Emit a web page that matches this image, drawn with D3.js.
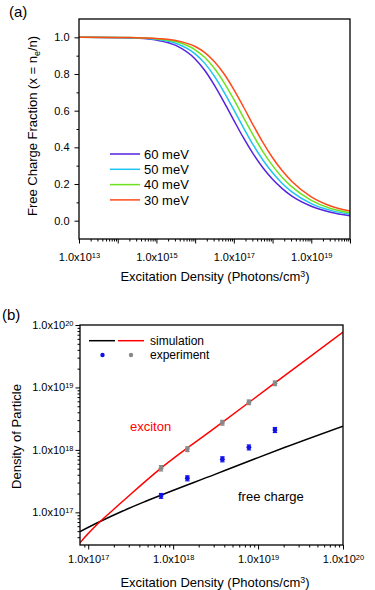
<!DOCTYPE html>
<html>
<head>
<meta charset="utf-8">
<script src="https://cdn.jsdelivr.net/npm/d3@7"></script>
<style>
body { margin: 0; background: #fff; }
svg { display: block; font-family: "Liberation Sans", Arial, sans-serif; }
</style>
</head>
<body>
<svg id="chart" width="375" height="590"></svg>
<script>
// ---- panel (a): free charge fraction vs excitation density ----
var densityA = [1e13, 1e14, 3.16e14, 1e15, 3.16e15, 1e16, 1.78e16, 3.16e16, 5.62e16, 1e17,
	1.78e17, 3.16e17, 5.62e17, 1e18, 1.78e18, 3.16e18, 1e19, 3.16e19, 1e20];
var frac60 = [1.000, 0.998, 0.995, 0.985, 0.956, 0.882, 0.819, 0.738, 0.645, 0.547,
	0.451, 0.364, 0.289, 0.226, 0.175, 0.134, 0.079, 0.046, 0.027];
var frac50 = [1.000, 0.999, 0.997, 0.989, 0.968, 0.910, 0.858, 0.787, 0.700, 0.604,
	0.506, 0.413, 0.331, 0.261, 0.203, 0.157, 0.093, 0.056, 0.035];
var frac40 = [1.000, 0.999, 0.998, 0.992, 0.977, 0.932, 0.890, 0.830, 0.752, 0.661,
	0.562, 0.466, 0.377, 0.300, 0.235, 0.184, 0.111, 0.066, 0.043];
var frac30 = [1.000, 0.999, 0.998, 0.994, 0.983, 0.950, 0.917, 0.867, 0.800, 0.715,
	0.620, 0.521, 0.427, 0.343, 0.272, 0.214, 0.130, 0.080, 0.052];
var bindingLabels = ["60 meV", "50 meV", "40 meV", "30 meV"];
var fracTicks = [0, 0.2, 0.4, 0.6, 0.8, 1.0];

// ---- panel (b): density of particle ----
var simDensityFree = [8e16, 1.38e17, 2.51e17, 4.68e17, 3.16e18, 1e19, 2.08e19, 1e20];
var simFree = [4.93e16, 7.13e16, 1.04e17, 1.49e17, 4.1e17, 7.53e17, 1.1e18, 2.4e18];
var simDensityExc = [8e16, 1e17, 1.38e17, 2e17, 3.16e17, 7.2e17, 3.16e18, 1.58e19, 1e20];
var simExciton = [3.25e16, 4.57e16, 7.13e16, 1.12e17, 1.95e17, 5.1e17, 2.29e18, 1.18e19, 7.7e19];
var expDensity = [7.2e17, 1.47e18, 3.8e18, 7.8e18, 1.58e19];
var expExciton = [5.1e17, 1.03e18, 2.73e18, 5.8e18, 1.17e19];
var expExcitonErr = [0.5e17, 0.9e17, 2.4e17, 5e17, 1.0e18];
var expFree = [1.84e17, 3.52e17, 7.1e17, 1.1e18, 2.09e18];
var expFreeErr = [0.16e17, 0.32e17, 0.65e17, 1.0e17, 1.9e17];

var colorsA = ["#5522dd", "#1ec4f2", "#6ee21e", "#ff4a1a"];
var svg = d3.select("#chart");
svg.append("rect").attr("width", 375).attr("height", 590).attr("fill", "#fff");

// minor ticks of a log axis: 2..9 x 10^k inside the domain
function logMinor(domain) {
	var out = [];
	for (var k = Math.floor(Math.log10(domain[0])); k <= Math.ceil(Math.log10(domain[1])); k++) {
		for (var m = 2; m <= 9; m++) {
			var v = m * Math.pow(10, k);
			if (v > domain[0] * 1.0001 && v < domain[1] * 0.9999) out.push(v);
		}
	}
	return out;
}

function powerLabel(t, d) {
	var e = Math.round(Math.log10(d));
	t.text("1.0x10");
	t.append("tspan").attr("dy", "-0.45em").attr("font-size", "0.68em").text(e);
}

function styleAxis(g) {
	g.select(".domain").remove();
	g.attr("font-family", null).attr("font-size", 11);
	g.selectAll(".tick line").attr("stroke", "#000").attr("stroke-width", 1);
	g.selectAll(".tick text").attr("fill", "#000");
}

// ================= panel (a) =================
var pa = {left: 79, right: 350, top: 19, bottom: 239};
var xA = d3.scaleLog().domain([1e13, 1e20]).range([pa.left, pa.right]);
var yA = d3.scaleLinear().domain([-0.1, 1.1]).range([pa.bottom, pa.top]);

svg.append("clipPath").attr("id", "clipA").append("rect")
	.attr("x", pa.left).attr("y", pa.top).attr("width", pa.right - pa.left).attr("height", pa.bottom - pa.top);

var lineA = d3.line().x(function(d) { return xA(d[0]); }).y(function(d) { return yA(d[1]); })
	.curve(d3.curveMonotoneX);
var seriesA = [frac60, frac50, frac40, frac30];
svg.append("g").attr("clip-path", "url(#clipA)").selectAll("path")
	.data(seriesA).enter().append("path")
	.attr("d", function(s) { return lineA(densityA.map(function(x, i) { return [x, s[i]]; })); })
	.attr("fill", "none")
	.attr("stroke", function(s, i) { return colorsA[i]; })
	.attr("stroke-width", 1.5);

// x axis (a)
var decA = [1e13, 1e14, 1e15, 1e16, 1e17, 1e18, 1e19, 1e20];
var gxA = svg.append("g").attr("transform", "translate(0," + pa.bottom + ")")
	.call(d3.axisBottom(xA).tickValues(decA).tickSize(4.5).tickSizeOuter(0).tickFormat(""));
styleAxis(gxA);
gxA.selectAll(".tick text").each(function(d) {
	var e = Math.round(Math.log10(d));
	if (e % 2 == 1) {
		var t = d3.select(this).attr("y", 22).attr("dy", null);
		powerLabel(t, d);
	}
});
var gxAm = svg.append("g").attr("transform", "translate(0," + pa.bottom + ")")
	.call(d3.axisBottom(xA).tickValues(logMinor(xA.domain())).tickSize(2.5).tickSizeOuter(0).tickFormat(""));
styleAxis(gxAm);

// y axis (a)
var gyA = svg.append("g").attr("transform", "translate(" + pa.left + ",0)")
	.call(d3.axisLeft(yA).tickValues(fracTicks).tickSize(4.5).tickPadding(5).tickSizeOuter(0)
		.tickFormat(d3.format(".1f")));
styleAxis(gyA);
var gyAm = svg.append("g").attr("transform", "translate(" + pa.left + ",0)")
	.call(d3.axisLeft(yA).tickValues([0.1, 0.3, 0.5, 0.7, 0.9]).tickSize(2.5).tickSizeOuter(0).tickFormat(""));
styleAxis(gyAm);

svg.append("rect").attr("x", pa.left).attr("y", pa.top)
	.attr("width", pa.right - pa.left).attr("height", pa.bottom - pa.top)
	.attr("fill", "none").attr("stroke", "#000").attr("stroke-width", 1.3);

// legend (a)
var legA = svg.append("g").selectAll("g").data(bindingLabels).enter().append("g")
	.attr("transform", function(d, i) { return "translate(110," + (154 + i * 15.3) + ")"; });
legA.append("line").attr("x1", 0).attr("x2", 30).attr("y1", 0).attr("y2", 0)
	.attr("stroke", function(d, i) { return colorsA[i]; }).attr("stroke-width", 1.5);
legA.append("text").attr("x", 34).attr("dy", "0.36em").attr("font-size", 13).text(function(d) { return d; });

// titles (a)
var txA = svg.append("text").attr("x", 215).attr("y", 281).attr("text-anchor", "middle").attr("font-size", 13)
	.text("Excitation Density (Photons/cm");
txA.append("tspan").attr("dy", "-0.45em").attr("font-size", "0.68em").text("3");
txA.append("tspan").attr("dy", "0.306em").text(")");

var tyA = svg.append("text").attr("transform", "translate(37,126) rotate(-90)")
	.attr("text-anchor", "middle").attr("font-size", 13).text("Free Charge Fraction (x = n");
tyA.append("tspan").attr("dy", "0.3em").attr("font-size", "0.68em").text("e");
tyA.append("tspan").attr("dy", "-0.204em").text("/n)");

svg.append("text").attr("x", 9).attr("y", 17).attr("font-size", 15).text("(a)");

// ================= panel (b) =================
var pb = {left: 80, right: 343, top: 325, bottom: 545};
var xB = d3.scaleLog().domain([8e16, 1e20]).range([pb.left, pb.right]);
var yB = d3.scaleLog().domain([3e16, 1e20]).range([pb.bottom, pb.top]);

svg.append("clipPath").attr("id", "clipB").append("rect")
	.attr("x", pb.left).attr("y", pb.top).attr("width", pb.right - pb.left).attr("height", pb.bottom - pb.top);

var lineB = d3.line().x(function(d) { return xB(d[0]); }).y(function(d) { return yB(d[1]); })
	.curve(d3.curveMonotoneX);
var gLinesB = svg.append("g").attr("clip-path", "url(#clipB)");
gLinesB.append("path")
	.attr("d", lineB(simDensityFree.map(function(x, i) { return [x, simFree[i]]; })))
	.attr("fill", "none").attr("stroke", "#000").attr("stroke-width", 1.5);
gLinesB.append("path")
	.attr("d", lineB(simDensityExc.map(function(x, i) { return [x, simExciton[i]]; })))
	.attr("fill", "none").attr("stroke", "#ff0000").attr("stroke-width", 1.5);

function drawPoints(vals, errs, color) {
	var g = svg.append("g");
	var pts = expDensity.map(function(x, i) { return {x: x, y: vals[i], e: errs[i]}; });
	g.selectAll("line.err").data(pts).enter().append("line").attr("class", "err")
		.attr("x1", function(d) { return xB(d.x); }).attr("x2", function(d) { return xB(d.x); })
		.attr("y1", function(d) { return yB(d.y - d.e); }).attr("y2", function(d) { return yB(d.y + d.e); })
		.attr("stroke", color).attr("stroke-width", 1.2);
	[-1, 1].forEach(function(s) {
		g.selectAll("line.cap" + s).data(pts).enter().append("line")
			.attr("x1", function(d) { return xB(d.x) - 2.2; }).attr("x2", function(d) { return xB(d.x) + 2.2; })
			.attr("y1", function(d) { return yB(d.y + s * d.e); }).attr("y2", function(d) { return yB(d.y + s * d.e); })
			.attr("stroke", color).attr("stroke-width", 1.2);
	});
	g.selectAll("circle").data(pts).enter().append("circle")
		.attr("cx", function(d) { return xB(d.x); }).attr("cy", function(d) { return yB(d.y); })
		.attr("r", 2.4).attr("fill", color);
}
drawPoints(expExciton, expExcitonErr, "#888888");
drawPoints(expFree, expFreeErr, "#1010e8");

// axes (b)
var decB = [1e17, 1e18, 1e19, 1e20];
var gxB = svg.append("g").attr("transform", "translate(0," + pb.bottom + ")")
	.call(d3.axisBottom(xB).tickValues(decB).tickSize(4.5).tickSizeOuter(0).tickFormat(""));
styleAxis(gxB);
gxB.selectAll(".tick text").each(function(d) {
	powerLabel(d3.select(this).attr("y", 18).attr("dy", null), d);
});
var gxBm = svg.append("g").attr("transform", "translate(0," + pb.bottom + ")")
	.call(d3.axisBottom(xB).tickValues(logMinor(xB.domain())).tickSize(2.5).tickSizeOuter(0).tickFormat(""));
styleAxis(gxBm);

var gyB = svg.append("g").attr("transform", "translate(" + pb.left + ",0)")
	.call(d3.axisLeft(yB).tickValues(decB).tickSize(4.5).tickPadding(2).tickSizeOuter(0).tickFormat(""));
styleAxis(gyB);
gyB.selectAll(".tick text").each(function(d) { powerLabel(d3.select(this), d); });
var gyBm = svg.append("g").attr("transform", "translate(" + pb.left + ",0)")
	.call(d3.axisLeft(yB).tickValues(logMinor(yB.domain())).tickSize(2.5).tickSizeOuter(0).tickFormat(""));
styleAxis(gyBm);

svg.append("rect").attr("x", pb.left).attr("y", pb.top)
	.attr("width", pb.right - pb.left).attr("height", pb.bottom - pb.top)
	.attr("fill", "none").attr("stroke", "#000").attr("stroke-width", 1.3);

// legend (b)
svg.append("line").attr("x1", 89).attr("x2", 115).attr("y1", 340.7).attr("y2", 340.7)
	.attr("stroke", "#000").attr("stroke-width", 1.5);
svg.append("line").attr("x1", 118).attr("x2", 144).attr("y1", 340.7).attr("y2", 340.7)
	.attr("stroke", "#ff0000").attr("stroke-width", 1.5);
svg.append("circle").attr("cx", 102.5).attr("cy", 355).attr("r", 2.2).attr("fill", "#1010e8");
svg.append("circle").attr("cx", 131).attr("cy", 355).attr("r", 2.2).attr("fill", "#888888");
svg.append("text").attr("x", 150).attr("y", 340.7).attr("dy", "0.36em").attr("font-size", 12).text("simulation");
svg.append("text").attr("x", 150).attr("y", 355).attr("dy", "0.36em").attr("font-size", 12).text("experiment");

svg.append("text").attr("x", 130).attr("y", 431).attr("font-size", 13).attr("fill", "#ff0000").text("exciton");
svg.append("text").attr("x", 238).attr("y", 501).attr("font-size", 13).attr("fill", "#000").text("free charge");

// titles (b)
var txB = svg.append("text").attr("x", 215).attr("y", 587).attr("text-anchor", "middle").attr("font-size", 13)
	.text("Excitation Density (Photons/cm");
txB.append("tspan").attr("dy", "-0.45em").attr("font-size", "0.68em").text("3");
txB.append("tspan").attr("dy", "0.306em").text(")");

svg.append("text").attr("transform", "translate(20.5,436.5) rotate(-90)")
	.attr("text-anchor", "middle").attr("font-size", 13).text("Density of Particle");

svg.append("text").attr("x", 2).attr("y", 320).attr("font-size", 15).text("(b)");
</script>
</body>
</html>
